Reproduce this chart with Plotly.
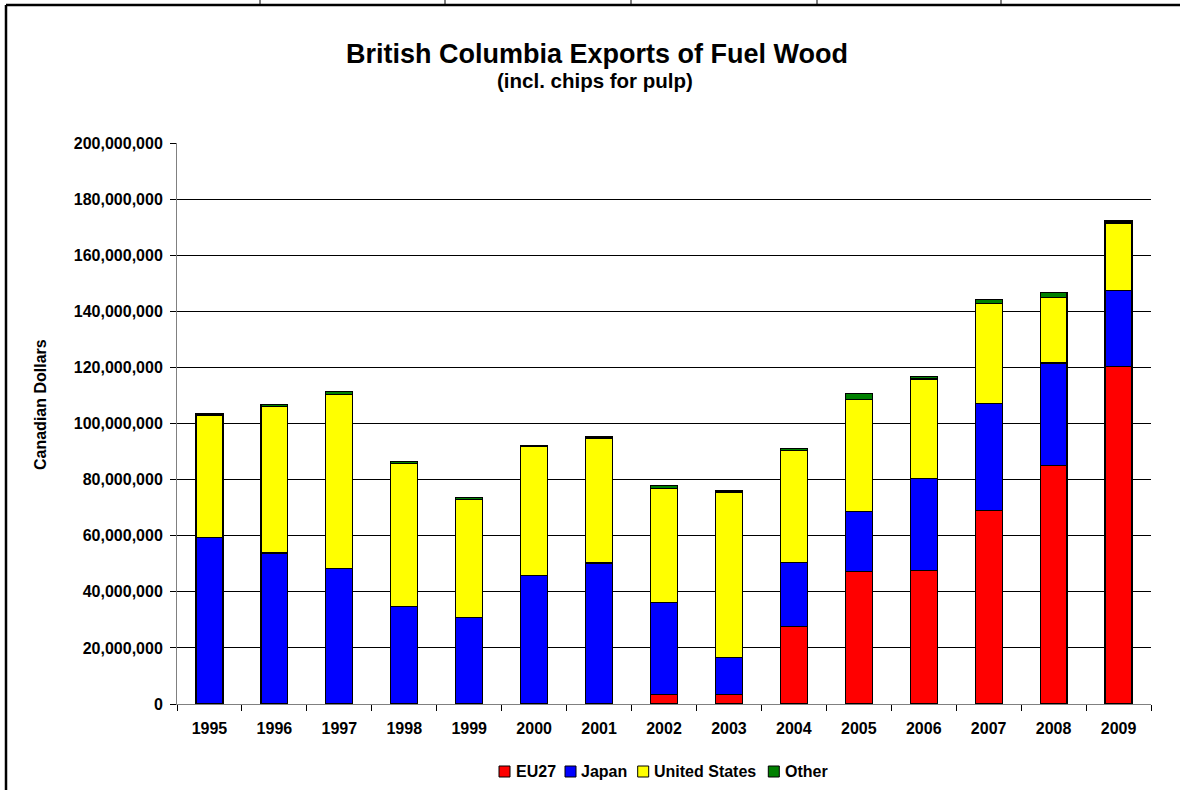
import plotly.graph_objects as go

years = [str(y) for y in range(1995, 2010)]

eu27 = [0, 0, 0, 0, 0, 0, 0, 3_300_000, 3_400_000, 27_500_000, 47_300_000,
        47_700_000, 69_000_000, 85_000_000, 120_200_000]
japan = [59_500_000, 53_800_000, 48_200_000, 34_900_000, 30_800_000, 45_700_000,
         50_300_000, 33_000_000, 13_100_000, 23_000_000, 21_200_000, 32_800_000,
         38_000_000, 36_600_000, 27_100_000]
united_states = [43_500_000, 52_400_000, 62_000_000, 50_700_000, 42_200_000,
                 46_300_000, 44_500_000, 40_500_000, 59_100_000, 40_000_000,
                 40_200_000, 35_400_000, 35_800_000, 23_200_000, 24_200_000]
other = [400_000, 700_000, 1_300_000, 800_000, 500_000, 300_000, 600_000,
         1_000_000, 500_000, 600_000, 1_900_000, 1_000_000, 1_400_000,
         2_000_000, 700_000]

series_names = ["EU27", "Japan", "United States", "Other"]
series_values = [eu27, japan, united_states, other]
series_colors = ["#FF0000", "#0000FF", "#FFFF00", "#008000"]

FONT = "Liberation Sans, Arial, sans-serif"

fig = go.Figure()
for name, vals, col in zip(series_names, series_values, series_colors):
    fig.add_trace(go.Bar(x=years, y=vals, name=name, showlegend=False,
                         marker=dict(color=col, line=dict(color="black", width=1.2))))

W, H = 1180, 790
L, R, T, B = 177, 1151, 143, 704


def px(x):
    return (x - L) / (R - L)


def py(y):
    return (B - y) / (B - T)


fig.update_layout(
    width=W, height=H,
    margin=dict(l=L, r=W - R, t=T, b=H - B),
    barmode="stack", bargap=0.585,
    plot_bgcolor="white", paper_bgcolor="white",
    font=dict(family=FONT, color="black", size=16, weight="bold"),
    showlegend=False,
    xaxis=dict(type="category", tickson="boundaries", ticks="outside", ticklen=6,
               tickcolor="black", showline=True, linecolor="#808080", linewidth=1,
               showgrid=False, ticklabelstandoff=10,
               tickfont=dict(size=16, weight="bold")),
    yaxis=dict(range=[0, 200_000_000], dtick=20_000_000, tickformat=",d",
               ticks="outside", ticklen=6, tickcolor="black",
               showline=True, linecolor="#808080", linewidth=1,
               showgrid=True, gridcolor="black", gridwidth=1,
               zeroline=False, ticklabelstandoff=4,
               tickfont=dict(size=16, weight="bold")),
)

fig.add_annotation(text="British Columbia Exports of Fuel Wood", xref="paper", yref="paper",
                   x=px(596.5), y=py(54), xanchor="center", yanchor="middle", showarrow=False,
                   font=dict(size=27, weight="bold"))
fig.add_annotation(text="(incl. chips for pulp)", xref="paper", yref="paper",
                   x=px(595), y=py(80), xanchor="center", yanchor="middle", showarrow=False,
                   font=dict(size=20.5, weight="bold"))
fig.add_annotation(text="Canadian Dollars", xref="paper", yref="paper", textangle=-90,
                   x=px(40), y=py(405), xanchor="center", yanchor="middle", showarrow=False,
                   font=dict(size=16, weight="bold"))

# legend (boxes + labels) laid out like the original
legend_box_x = [499, 565, 637.7, 768.3]
legend_text_x = [514, 579, 652, 783]
for name, col, bx, tx in zip(series_names, series_colors, legend_box_x, legend_text_x):
    fig.add_shape(type="rect", xref="paper", yref="paper",
                  x0=px(bx), x1=px(bx + 11), y0=py(766), y1=py(777),
                  fillcolor=col, line=dict(color="black", width=1))
    fig.add_annotation(text=name, xref="paper", yref="paper", x=px(tx), y=py(771.5),
                       xanchor="left", yanchor="middle", showarrow=False,
                       font=dict(size=16, weight="bold"))

# sheet frame lines
fig.add_shape(type="line", xref="paper", yref="paper", x0=px(6), x1=px(1180),
              y0=py(5), y1=py(5), line=dict(color="black", width=2.5))
fig.add_shape(type="line", xref="paper", yref="paper", x0=px(6), x1=px(6),
              y0=py(5), y1=py(790), line=dict(color="black", width=2.5))
for xc in [260, 445, 631, 817, 1001]:
    fig.add_shape(type="line", xref="paper", yref="paper", x0=px(xc), x1=px(xc),
                  y0=py(0), y1=py(5), line=dict(color="black", width=1))

fig.write_html("out.html", config={"displayModeBar": False},
               post_script="document.body.style.margin='0';document.body.style.overflow='hidden';")
